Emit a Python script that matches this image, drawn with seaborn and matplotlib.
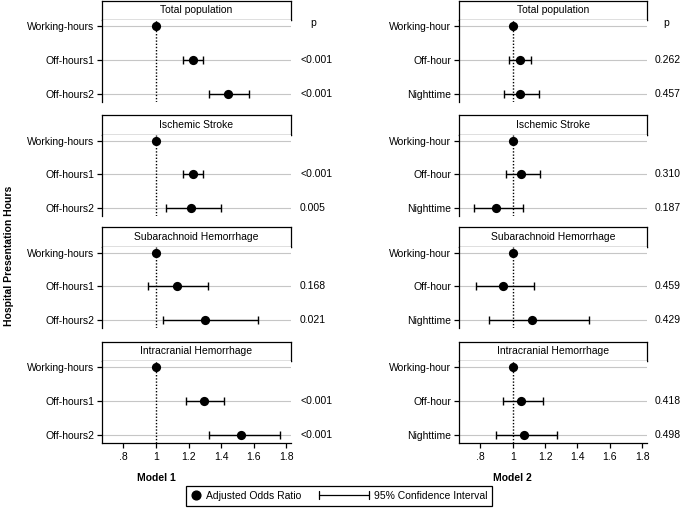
import numpy as np
import pandas as pd
import matplotlib
matplotlib.use("Agg")
import matplotlib.pyplot as plt
import matplotlib.transforms as mtransforms
from matplotlib.lines import Line2D
from matplotlib.legend_handler import HandlerBase
import seaborn as sns

# ---------------- data ----------------
panels = ["Total population", "Ischemic Stroke", "Subarachnoid Hemorrhage", "Intracranial Hemorrhage"]
m1_labels = ["Working-hours", "Off-hours1", "Off-hours2"]
m2_labels = ["Working-hour", "Off-hour", "Nighttime"]

m1_or = [[1.0, 1.23, 1.44], [1.0, 1.23, 1.215], [1.0, 1.13, 1.30], [1.0, 1.295, 1.525]]
m1_lo = [[1.0, 1.168, 1.326], [1.0, 1.168, 1.06], [1.0, 0.95, 1.04], [1.0, 1.185, 1.326]]
m1_hi = [[1.0, 1.29, 1.57], [1.0, 1.29, 1.40], [1.0, 1.32, 1.625], [1.0, 1.42, 1.76]]
m1_p = [["", "<0.001", "<0.001"], ["", "<0.001", "0.005"], ["", "0.168", "0.021"], ["", "<0.001", "<0.001"]]

m2_or = [[1.0, 1.044, 1.045], [1.0, 1.052, 0.896], [1.0, 0.94, 1.118], [1.0, 1.05, 1.067]]
m2_lo = [[1.0, 0.977, 0.944], [1.0, 0.956, 0.759], [1.0, 0.77, 0.855], [1.0, 0.94, 0.894]]
m2_hi = [[1.0, 1.114, 1.16], [1.0, 1.168, 1.066], [1.0, 1.133, 1.473], [1.0, 1.185, 1.272]]
m2_p = [["", "0.262", "0.457"], ["", "0.310", "0.187"], ["", "0.459", "0.429"], ["", "0.418", "0.498"]]

x_ticks = [0.8, 1.0, 1.2, 1.4, 1.6, 1.8]
x_ticklabels = [".8", "1", "1.2", "1.4", "1.6", "1.8"]
model_names = ["Model 1", "Model 2"]
y_title = "Hospital Presentation Hours"
legend_labels = ["Adjusted Odds Ratio", "95% Confidence Interval"]

models = [
    dict(labels=m1_labels, orv=m1_or, lo=m1_lo, hi=m1_hi, p=m1_p),
    dict(labels=m2_labels, orv=m2_or, lo=m2_lo, hi=m2_hi, p=m2_p),
]

# ---------------- style ----------------
sns.set_style("ticks")
plt.rcParams['font.family'] = ['Liberation Sans', 'DejaVu Sans']
plt.rcParams['axes.edgecolor'] = 'black'
plt.rcParams['text.color'] = 'black'
plt.rcParams['xtick.color'] = 'black'
plt.rcParams['ytick.color'] = 'black'
FS = 7.5

W, H = 682, 509
fig = plt.figure(figsize=(W / 100, H / 100), dpi=100)
fig.patch.set_facecolor('white')


def fr(x0, y_top, w, h):
    return [x0 / W, 1 - (y_top + h) / H, w / W, h / H]


header_tops = [0.5, 115, 227, 341.5]
header_h = 19.5
axes_h = 81.5
cols = [(102, 189), (459, 188)]
p_x = [1.048, 1.042]
phead_x = [1.116, 1.101]

for c, (x0, w) in enumerate(cols):
    m = models[c]
    for i in range(4):
        ht = header_tops[i]
        hax = fig.add_axes(fr(x0, ht, w, header_h))
        hax.set_xticks([])
        hax.set_yticks([])
        for s in hax.spines.values():
            s.set_visible(True)
            s.set_linewidth(0.9)
            s.set_color('black')
        hax.text(0.5, 0.5, panels[i], ha='center', va='center', fontsize=FS,
                 transform=hax.transAxes)

        ax = fig.add_axes(fr(x0, ht + header_h, w, axes_h))
        df = pd.DataFrame({'row': [0, 1, 2], 'or': m['orv'][i],
                           'lo': m['lo'][i], 'hi': m['hi'][i]})
        ax.yaxis.grid(True, color='#c6c6c6', lw=0.8)
        ax.xaxis.grid(False)
        ax.set_axisbelow(True)
        ax.axvline(1.0, color='black', ls=(0, (1, 1.3)), lw=1.0, zorder=2)
        sub = df[df['lo'] != df['hi']]
        ax.errorbar(sub['or'], sub['row'],
                    xerr=[sub['or'] - sub['lo'], sub['hi'] - sub['or']],
                    fmt='none', ecolor='black', elinewidth=1.0, capsize=3, capthick=1.0,
                    zorder=3)
        sns.scatterplot(data=df, x='or', y='row', color='black', s=44, linewidth=0,
                        ax=ax, zorder=5, legend=False)
        ax.set_xlim(0.668, 1.83)
        ax.set_ylim(2.23, -0.18)
        ax.set_yticks([0, 1, 2])
        ax.set_yticklabels(m['labels'], fontsize=FS)
        ax.set_xlabel("")
        ax.set_ylabel("")
        ax.tick_params(axis='y', length=3.5, width=0.9, pad=2)
        ax.spines['top'].set_visible(False)
        ax.spines['right'].set_visible(False)
        ax.spines['left'].set_linewidth(0.9)
        if i == 3:
            ax.set_xticks(x_ticks)
            ax.set_xticklabels(x_ticklabels, fontsize=FS)
            ax.tick_params(axis='x', length=3.5, width=0.9, pad=3)
            ax.spines['bottom'].set_linewidth(0.9)
            ax.text(1.0, -0.43, model_names[c], fontsize=FS, fontweight='bold',
                    ha='center', va='center',
                    transform=mtransforms.blended_transform_factory(ax.transData, ax.transAxes))
        else:
            ax.set_xticks([])
            ax.spines['bottom'].set_visible(False)

        tr = mtransforms.blended_transform_factory(ax.transAxes, ax.transData)
        for r, ptxt in enumerate(m['p'][i]):
            if ptxt:
                ax.text(p_x[c], r, ptxt, transform=tr, ha='left', va='center', fontsize=FS)
        if i == 0:
            ax.text(phead_x[c], -0.08, "p", transform=tr, ha='center', va='center', fontsize=FS)

fig.text(9 / W, 1 - 256 / H, y_title, rotation=90, ha='center', va='center',
         fontsize=FS, fontweight='bold')


class HandlerCI(HandlerBase):
    def create_artists(self, legend, orig_handle, xdescent, ydescent, width, height,
                       fontsize, trans):
        L = 36.0
        x1 = -xdescent + width
        x0 = x1 - L
        y = -ydescent + height / 2
        cap = 2.8
        kw = dict(color='black', lw=0.9, transform=trans)
        return [Line2D([x0, x1], [y, y], **kw),
                Line2D([x0, x0], [y - cap, y + cap], **kw),
                Line2D([x1, x1], [y - cap, y + cap], **kw)]


pt_handle = Line2D([], [], marker='o', color='black', ls='none', markersize=6.3)
ci_handle = Line2D([], [], color='black')
leg = fig.legend([pt_handle, ci_handle], legend_labels,
                 handler_map={ci_handle: HandlerCI()}, ncol=2, loc='center',
                 bbox_to_anchor=(339 / W, 1 - 496 / H), frameon=True, fancybox=False,
                 edgecolor='black', framealpha=1, fontsize=FS, handlelength=1.0,
                 handletextpad=0.5, columnspacing=5.5, borderpad=0.45, borderaxespad=0)
leg.get_frame().set_linewidth(0.9)

fig.savefig("out.png", dpi=100, facecolor='white')
